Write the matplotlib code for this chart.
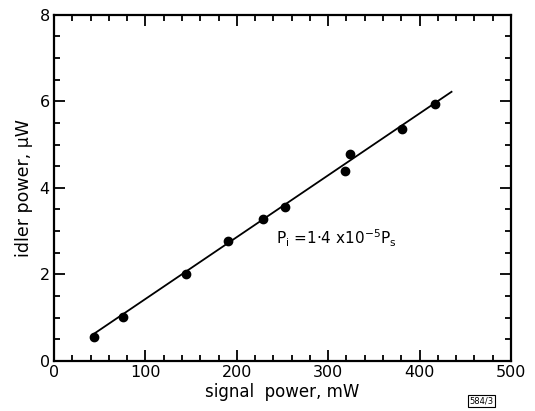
import matplotlib.pyplot as plt
from matplotlib.ticker import MultipleLocator

# measured points
signal_mw = [44, 76, 144, 190, 229, 253, 318, 324, 381, 417]
idler_uw = [0.56, 1.01, 2.0, 2.77, 3.28, 3.55, 4.38, 4.79, 5.36, 5.94]

# fitted line end points
fit_x = [44, 435]
fit_y = [0.63, 6.22]

x_ticks = [0, 100, 200, 300, 400, 500]
y_ticks = [0, 2, 4, 6, 8]

plt.rcParams['font.family'] = ['DejaVu Sans']

fig = plt.figure(figsize=(5.35, 4.11), dpi=100)
ax = fig.add_axes([0.101, 0.122, 0.854, 0.842])

ax.plot(fit_x, fit_y, color='black', lw=1.3)
ax.plot(signal_mw, idler_uw, 'o', color='black', ms=6)

ax.set_xlim(0, 500)
ax.set_ylim(0, 8)
ax.set_xticks(x_ticks)
ax.set_yticks(y_ticks)
ax.xaxis.set_minor_locator(MultipleLocator(20))
ax.yaxis.set_minor_locator(MultipleLocator(0.5))
ax.tick_params(which='both', direction='in', top=True, right=True,
               width=1.3, labelsize=11.5, colors='black')
ax.tick_params(which='major', length=8, pad=3)
ax.tick_params(which='minor', length=4.5)
for s in ax.spines.values():
    s.set_linewidth(1.6)

ax.set_xlabel('signal  power, mW', fontsize=12, labelpad=2)
ax.set_ylabel('idler power, μW', fontsize=12.5, labelpad=5)

ax.text(243, 2.84, r'P$_\mathregular{i}$ =1·4 x10$^\mathregular{-5}$P$_\mathregular{s}$',
        fontsize=11, va='center', ha='left')

fig.text(0.877, 0.018, '584/3', fontsize=6,
         bbox=dict(boxstyle='square,pad=0.15', fc='white', ec='black', lw=0.8))

fig.savefig('out.png', dpi=100)
